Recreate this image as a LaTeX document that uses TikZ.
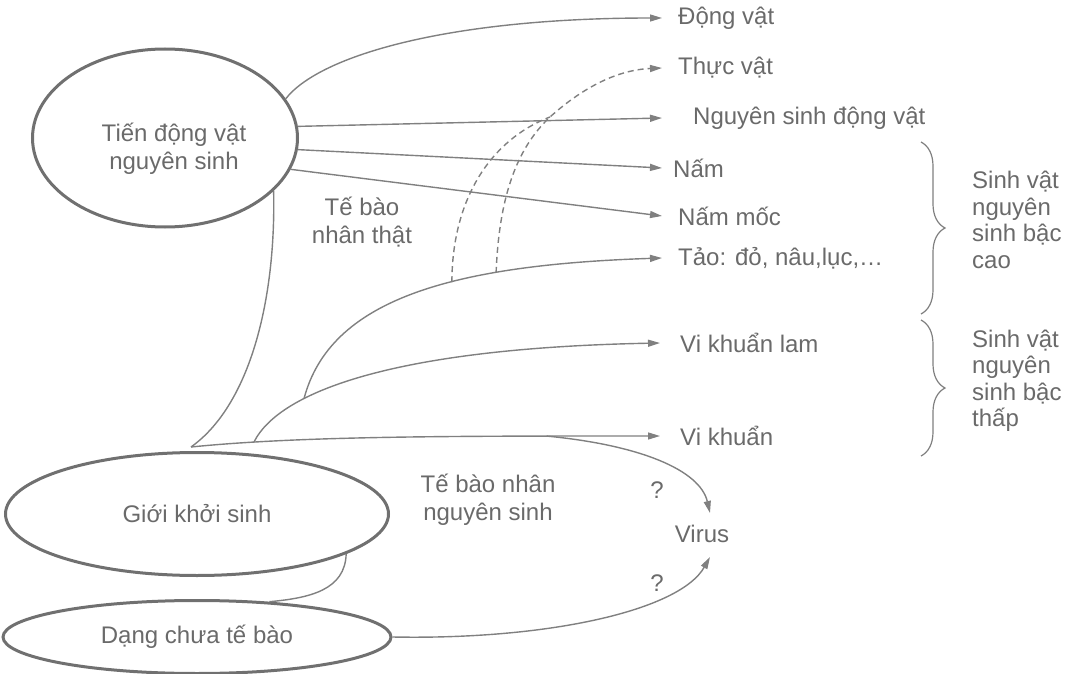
\documentclass[tikz,border=0pt]{standalone}
\usepackage{fontspec}
\setmainfont{Liberation Sans}
\usetikzlibrary{arrows.meta,shapes.geometric,decorations.pathreplacing}
\definecolor{txt}{HTML}{6A6A6A}
\definecolor{ln}{HTML}{808080}
\definecolor{ov}{HTML}{707070}
\begin{document}
\begin{tikzpicture}[x=1pt,y=-1pt,
  every node/.style={text=txt, font=\fontsize{24}{28}\selectfont},
  oval/.style={ellipse, draw=ov, line width=3pt, inner sep=0pt},
  lab/.style={anchor=west, inner sep=0pt},
  conn/.style={draw=ln, line width=1.4pt},
  arr/.style={conn, -{Triangle[length=12pt,width=7pt]}},
  dsh/.style={conn, dash pattern=on 6pt off 4pt},
  brc/.style={draw=ln, line width=1.2pt, decorate, decoration={brace, amplitude=24pt}},
  side/.style={anchor=west, align=left, inner sep=0pt, font=\fontsize{24}{26.5}\selectfont}]

\useasboundingbox (0,0) rectangle (1069,674);

% ovals
\node[oval, minimum width=265pt, minimum height=178pt] (e1) at (165,138) {};
\node[align=center] (t1) at (174,149) {Tiến động vật\\nguyên sinh};
\node[oval, minimum width=383pt, minimum height=123pt] (e2) at (197,514) {Giới khởi sinh};
\node[oval, minimum width=388pt, minimum height=73pt] (e3) at (197,637) {Dạng chưa tế bào};

% labels
\node[lab] (dv) at (678,18) {Động vật};
\node[lab] (tv) at (678,68) {Thực vật};
\node[lab] (nsdv) at (693,118) {Nguyên sinh động vật};
\node[lab] (nam) at (673,168) {Nấm};
\node[lab] (nm) at (678,216) {Nấm mốc};
\node[lab] (tao) at (678,258) {Tảo: đỏ, nâu,lục,…};
\node[lab] (vkl) at (680,343) {Vi khuẩn lam};
\node[lab] (vk) at (680,436) {Vi khuẩn};
\node[inner sep=0pt] (vir) at (702,534) {Virus};
\node (q1) at (657,490) {?};
\node (q2) at (657,583) {?};
\node[align=center] (tbnt) at (362,222) {Tế bào\\nhân thật};
\node[align=center] (tbnns) at (488,500) {Tế bào nhân\\nguyên sinh};
\node[side] (cao) at (972,220) {Sinh vật\\nguyên\\sinh bậc\\cao};
\node[side] (thap) at (972,381) {Sinh vật\\nguyên\\sinh bậc\\thấp};

% connectors from Tien dong vat nguyen sinh
\draw[arr] (e1.18) .. controls (320,55) and (450,18) .. ([xshift=-16pt]dv.west);
\draw[arr] (e1.5) -- ([xshift=-31pt]nsdv.west);
\draw[arr] (e1.-5) -- ([xshift=-11pt]nam.west);
\draw[arr] (e1.-14) -- ([xshift=-16pt]nm.west);

\coordinate (gk) at ([xshift=-6pt,yshift=4pt]e2.north);
\draw[conn] (e1.-26) .. controls (276,300) and (250,405) .. (gk);

% Vi khuan line and branches
\draw[arr] (gk) .. controls (300,436) and (450,436) .. ([xshift=-20pt]vk.west)
  coordinate[pos=0.18] (b1) coordinate[pos=0.81] (b2);
\draw[arr] (b1) .. controls (280,390) and (400,348) .. ([xshift=-20pt]vkl.west)
  coordinate[pos=0.3] (b3);
\draw[arr] (b3) .. controls (330,300) and (450,265) .. ([xshift=-16pt]tao.west)
  coordinate[pos=0.6] (d1) coordinate[pos=0.7] (d2);

% dashed to Thuc vat
\coordinate (j) at (550,117);
\draw[dsh, -{Triangle[length=12pt,width=7pt]}] (d2) .. controls (499,200) and (515,150) .. (j)
  .. controls (580,90) and (615,70) .. ([xshift=-16pt]tv.west);
\draw[dsh] (d1) .. controls (452,200) and (490,140) .. (j);

% virus
\draw[arr] (b2) .. controls (640,445) and (700,470) .. ([xshift=8pt,yshift=12pt]vir.north);
\draw[arr] (e3.east) .. controls (550,640) and (680,610) .. ([xshift=8pt,yshift=-14pt]vir.south);

% between ovals
\draw[conn] (e2.-15) .. controls (345,590) and (310,598) .. (e3.26);

% braces
\draw[brc] (921,142) -- (921,314);
\draw[brc] (921,320) -- (921,456);
\end{tikzpicture}
\end{document}
